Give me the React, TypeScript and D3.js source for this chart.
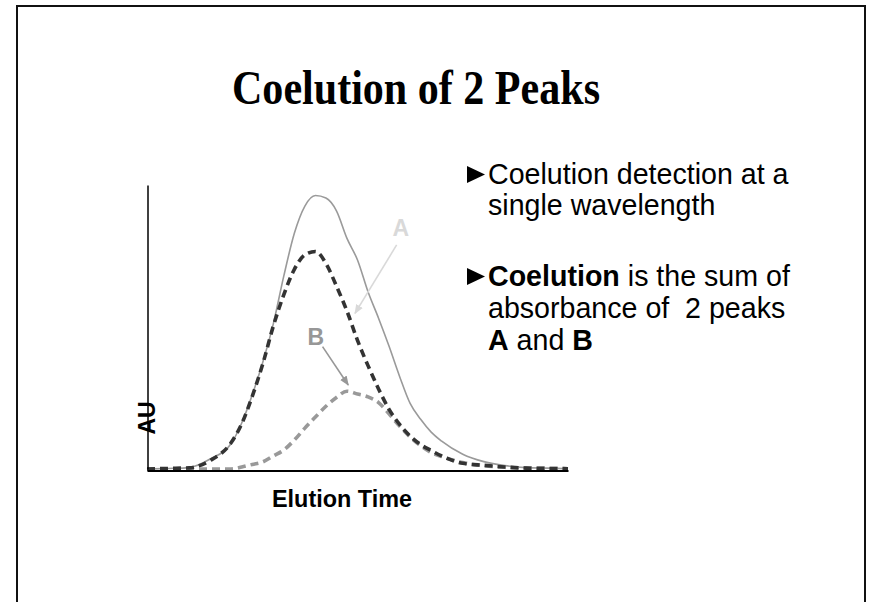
import React, { useEffect, useRef } from 'react';
import * as d3 from 'd3';

// elution time (arbitrary units) and absorbance (AU, % of axis height)
const times = [0, 5, 10, 15, 20, 22.5, 25, 27.5, 30, 32.5, 35, 37.5, 40, 42.5, 45, 47.5, 50, 52.5, 55, 57.5, 60, 62.5, 65, 67.5, 70, 75, 80, 85, 90, 95, 100];
const sumAU = [0, 0.2, 0.5, 3.5, 9.0, 16.2, 26.1, 37.6, 51.1, 68.0, 83.0, 92.6, 96.3, 95.4, 90.9, 81.2, 73.6, 62.4, 53.1, 43.2, 32.6, 23.1, 17.5, 13.0, 9.8, 5.2, 2.6, 1.2, 0.5, 0.3, 0.1];
const peakA = [0, 0.2, 0.4, 3.0, 9.3, 15.9, 25.6, 37.0, 50.3, 61.4, 70.3, 75.4, 76.6, 72.4, 64.4, 55.6, 45.3, 36.4, 28.2, 21.0, 15.7, 11.6, 8.6, 6.5, 4.6, 2.0, 1.3, 0.7, 0.3, 0.2, 0.1];
const peakB = [0, 0, 0, 0, 0, 0.7, 1.6, 2.5, 4.6, 6.7, 10.2, 14.4, 18.3, 22.1, 25.2, 27.4, 26.4, 25.4, 23.4, 19.4, 15.1, 11.3, 8.2, 5.8, 4.4, 2.3, 1.2, 0.6, 0.4, 0.2, 0.1];

// peak labels: label position, arrow start, arrow tip (data units)
const peakLabels = [
  { name: 'A', color: '#d9d9d9', label: [60.3, 82], from: [59.3, 78.9], to: [49.4, 54.8] },
  { name: 'B', color: '#979797', label: [40.1, 43.7], from: [41.7, 43.1], to: [47.8, 29.6] },
];

const W = 869;
const H = 602;
const sans = '"Liberation Sans", Arial, sans-serif';

const App = () => {
  const svgRef = useRef<SVGSVGElement>(null);

  useEffect(() => {
    const svg = d3.select(svgRef.current);
    svg.selectAll('*').remove();

    const x = d3.scaleLinear().domain([0, 100]).range([147, 568]);
    const y = d3.scaleLinear().domain([0, 100]).range([469, 185]);

    // slide frame
    svg.append('rect')
      .attr('x', 17).attr('y', 6)
      .attr('width', 848).attr('height', 620)
      .attr('fill', 'none').attr('stroke', '#111').attr('stroke-width', 2);

    svg.append('text')
      .attr('x', 232).attr('y', 104)
      .attr('textLength', 368).attr('lengthAdjust', 'spacingAndGlyphs')
      .style('font-family', '"Liberation Serif", "Times New Roman", serif')
      .style('font-size', '48px').style('font-weight', 'bold')
      .text('Coelution of 2 Peaks');

    const defs = svg.append('defs');
    peakLabels.forEach(p => {
      defs.append('marker')
        .attr('id', `arrow-${p.name}`)
        .attr('viewBox', '0 0 10 10').attr('refX', 9).attr('refY', 5)
        .attr('markerWidth', 6).attr('markerHeight', 6)
        .attr('orient', 'auto-start-reverse')
        .append('path').attr('d', 'M0,1L10,5L0,9Z').attr('fill', p.color);
    });

    const line = (vals: number[]) => d3.line<number>()
      .x((_, i) => x(times[i]))
      .y(d => y(d))
      .curve(d3.curveMonotoneX)(vals);

    const g = svg.append('g');
    g.append('path').attr('d', line(sumAU))
      .attr('fill', 'none').attr('stroke', '#9a9a9a').attr('stroke-width', 1.6);
    g.append('path').attr('d', line(peakB))
      .attr('fill', 'none').attr('stroke', '#999').attr('stroke-width', 3.6)
      .attr('stroke-dasharray', '8 5');
    g.append('path').attr('d', line(peakA))
      .attr('fill', 'none').attr('stroke', '#333').attr('stroke-width', 3.6)
      .attr('stroke-dasharray', '8 5');

    // axes, no ticks
    svg.append('g').attr('transform', 'translate(0,470.5)')
      .call(d3.axisBottom(x).ticks(0).tickSizeOuter(0))
      .call(a => a.select('.domain').attr('stroke', '#000').attr('stroke-width', 2));
    svg.append('g').attr('transform', 'translate(147.5,0)')
      .call(d3.axisLeft(y).ticks(0).tickSizeOuter(0))
      .call(a => a.select('.domain').attr('stroke', '#000').attr('stroke-width', 1.5));

    svg.append('text')
      .attr('transform', 'translate(155,418) rotate(-90)')
      .attr('text-anchor', 'middle')
      .style('font-family', sans).style('font-size', '23px').style('font-weight', 'bold')
      .text('AU');

    svg.append('text')
      .attr('x', 272).attr('y', 507)
      .attr('textLength', 140).attr('lengthAdjust', 'spacingAndGlyphs')
      .style('font-family', sans).style('font-size', '23px').style('font-weight', 'bold')
      .text('Elution Time');

    peakLabels.forEach(p => {
      svg.append('line')
        .attr('x1', x(p.from[0])).attr('y1', y(p.from[1]))
        .attr('x2', x(p.to[0])).attr('y2', y(p.to[1]))
        .attr('stroke', p.color).attr('stroke-width', 1.6)
        .attr('marker-end', `url(#arrow-${p.name})`);
      svg.append('text')
        .attr('x', x(p.label[0])).attr('y', y(p.label[1]))
        .attr('text-anchor', 'middle')
        .attr('fill', p.color)
        .style('font-family', sans).style('font-size', '23px').style('font-weight', 'bold')
        .text(p.name);
    });

    // bullet text
    const bullets = [
      { y: 184, parts: [['Coelution detection at a', false]], tri: true },
      { y: 215, parts: [['single wavelength', false]], tri: false },
      { y: 286, parts: [['Coelution', true], [' is the sum of', false]], tri: true },
      { y: 318, parts: [['absorbance of  2 peaks', false]], tri: false },
      { y: 350, parts: [['A', true], [' and ', false], ['B', true]], tri: false },
    ];
    bullets.forEach(b => {
      if (b.tri) {
        svg.append('path')
          .attr('d', `M467,${b.y - 18}L485,${b.y - 9.5}L467,${b.y - 1}Z`)
          .attr('fill', '#000');
      }
      const t = svg.append('text')
        .attr('x', 488).attr('y', b.y)
        .style('font-family', sans).style('font-size', '28.6px')
        .style('white-space', 'pre');
      b.parts.forEach(([s, bold]) => {
        t.append('tspan').style('font-weight', bold ? 'bold' : 'normal').text(s as string);
      });
    });
  }, []);

  return (
    <svg ref={svgRef} width={W} height={H}
      style={{ position: 'absolute', left: 0, top: 0, background: '#fff' }} />
  );
};

export default App;
